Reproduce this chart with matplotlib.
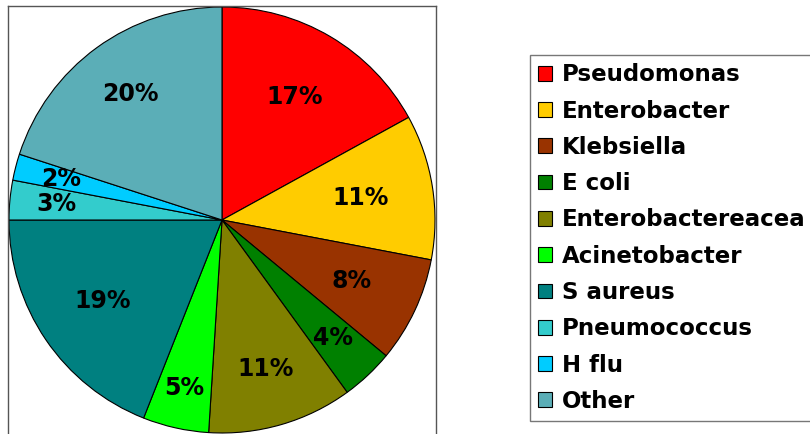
import matplotlib
matplotlib.use("Agg")
import matplotlib.pyplot as plt
import numpy as np
from matplotlib.patches import Patch

categories = ["Pseudomonas", "Enterobacter", "Klebsiella", "E coli", "Enterobactereacea",
              "Acinetobacter", "S aureus", "Pneumococcus", "H flu", "Other"]
values = [17, 11, 8, 4, 11, 5, 19, 3, 2, 20]
colors = ["#FF0000", "#FFCC00", "#993300", "#008000", "#808000",
          "#00FF00", "#008080", "#33CCCC", "#00CCFF", "#5BAEB7"]
label_radius = [0.67, 0.66, 0.67, 0.76, 0.73, 0.81, 0.68, 0.78, 0.78, 0.73]

W, H = 810, 434
fig = plt.figure(figsize=(W / 100, H / 100), dpi=100)
fig.patch.set_facecolor("white")

# pie axes: frame from x=8..436 px, y=6..440 px (bottom cut off)
ax = fig.add_axes([8 / W, (H - 440) / H, 428 / W, 434 / H])
wedges, _ = ax.pie(values, colors=colors, startangle=90, counterclock=False,
                   radius=1.0, frame=True,
                   wedgeprops=dict(edgecolor="black", linewidth=0.8))
ax.set_aspect("auto")
ax.set_xlim(-214 / 213, 214 / 213)
ax.set_ylim(-220 / 213, 214 / 213)
ax.set_xticks([])
ax.set_yticks([])
for s in ax.spines.values():
    s.set_edgecolor("#555555")
    s.set_linewidth(1.0)

for w, v, rf in zip(wedges, values, label_radius):
    ang = np.deg2rad((w.theta1 + w.theta2) / 2)
    ax.text(rf * np.cos(ang), rf * np.sin(ang), f"{v}%", ha="center", va="center",
            fontsize=17, fontweight="heavy", color="black")

handles = [Patch(facecolor=c, edgecolor="black", linewidth=0.8) for c in colors]
leg = fig.legend(handles, categories, loc="upper left",
                 bbox_to_anchor=(530 / W, 1 - 55 / H), borderaxespad=0,
                 prop=dict(size=16.5, weight="heavy"), frameon=True, fancybox=False,
                 handlelength=0.62, handleheight=0.62, handletextpad=0.4,
                 labelspacing=0.58, borderpad=0.36)
leg.get_frame().set_edgecolor("#555555")
leg.get_frame().set_linewidth(1.0)

fig.savefig("out.png", dpi=100)
